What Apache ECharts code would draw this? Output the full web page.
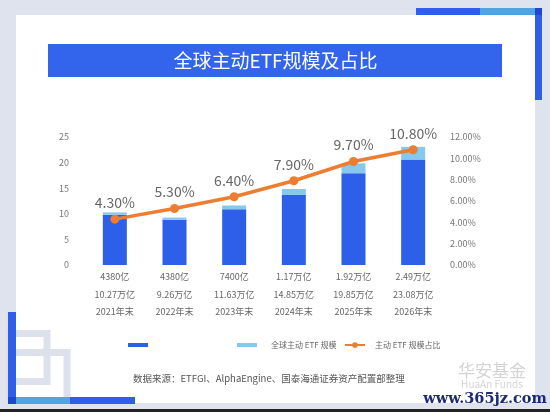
<!DOCTYPE html>
<html><head><meta charset="utf-8">
<script src="https://cdn.jsdelivr.net/npm/echarts@6/dist/echarts.min.js"></script>
<style>html,body{margin:0;padding:0;background:#dfe3ee}#c{width:550px;height:412px}</style>
</head><body><div id="c"></div>
<script>
const years = ['2021年末','2022年末','2023年末','2024年末','2025年末','2026年末'];
const activeLabels = ['4380亿','4380亿','7400亿','1.17万亿','1.92万亿','2.49万亿'];
const totalLabels = ['10.27万亿','9.26万亿','11.63万亿','14.85万亿','19.85万亿','23.08万亿'];
const totalScale = [10.27, 9.26, 11.63, 14.85, 19.85, 23.08];   // 万亿美元 total ETF
const activeScale = [0.438, 0.438, 0.74, 1.17, 1.92, 2.49];     // 万亿美元 active ETF
const activeShare = [4.3, 5.3, 6.4, 7.9, 9.7, 10.8];            // %
const leftTicks = {min:0, max:25, interval:5};
const rightTicks = {min:0, max:12, interval:2};

const F = '"Noto Sans CJK SC", "Noto Sans", sans-serif';
const otherScale = totalScale.map((t,i)=>+(t - activeScale[i]).toFixed(3));

const chart = echarts.init(document.getElementById('c'), null, {renderer:'canvas'});
const g = [
  {type:'rect', shape:{x:16,y:15,width:519,height:388}, style:{fill:'#ffffff'}, z:-10},
  {type:'rect', shape:{x:48,y:44,width:454,height:33}, style:{fill:'#3265ec'}},
  {type:'text', x:275.5, y:61, style:{text:'全球主动ETF规模及占比', fill:'#fff', font:'400 19px '+F, align:'center', verticalAlign:'middle'}},
  // top-right decoration
  {type:'rect', shape:{x:416,y:8,width:64,height:7}, style:{fill:'#2f5fe8'}},
  {type:'rect', shape:{x:480,y:8,width:55,height:7}, style:{fill:'#4ea5e6'}},
  {type:'rect', shape:{x:535,y:8,width:7,height:92}, style:{fill:'#2f5fe8'}},
  {type:'rect', shape:{x:535,y:8,width:7,height:7}, style:{fill:'#1d47d0'}},
  // bottom-left decoration
  {type:'rect', shape:{x:10,y:333.5,width:37,height:48}, style:{fill:null, stroke:'#dde1ec', lineWidth:7}},
  {type:'rect', shape:{x:10,y:352.5,width:57,height:48}, style:{fill:null, stroke:'#dde1ec', lineWidth:7}},
  {type:'rect', shape:{x:8,y:312,width:8,height:92}, style:{fill:'#2f5fe8'}},
  {type:'rect', shape:{x:16,y:397,width:54,height:7}, style:{fill:'#4ea5e6'}},
  {type:'rect', shape:{x:70,y:397,width:65,height:7}, style:{fill:'#2f5fe8'}},
  {type:'rect', shape:{x:8,y:397,width:8,height:7}, style:{fill:'#1d47d0'}},
  {type:'rect', shape:{x:0,y:409,width:550,height:3}, style:{fill:'#222'}},
  // footer
  {type:'text', x:133, y:378, style:{text:'数据来源：ETFGI、AlphaEngine、国泰海通证券资产配置部整理', fill:'#555', font:'9.5px '+F, verticalAlign:'middle'}},
  {type:'text', x:492, y:371, style:{text:'华安基金', fill:'#d4d4d4', font:'17px '+F, align:'center', verticalAlign:'middle'}},
  {type:'text', x:492, y:384, style:{text:'HuaAn Funds', fill:'#d4d4d4', font:'10px '+F, align:'center', verticalAlign:'middle'}},
  {type:'text', x:485, y:399, style:{text:'www.365jz.com', fill:'#1c2a78', font:'bold 14.5px "DejaVu Serif", serif', align:'center', verticalAlign:'middle'}}
];

chart.setOption({
  backgroundColor:'#dfe3ee',
  animation:false,
  textStyle:{fontFamily:F},
  graphic:g,
  grid:{left:85, right:107, top:137, bottom:147},
  legend:[
    {left:123, top:338, itemWidth:20, itemHeight:4, icon:'rect', data:['其他ETF规模'], formatter:()=>'', textStyle:{fontSize:8}},
    {left:232, top:336, itemWidth:20, itemHeight:4, icon:'rect', data:['全球主动 ETF 规模'], textStyle:{fontSize:8, color:'#666', padding:[0,0,0,9]}},
    {left:339, top:336, itemWidth:20, itemHeight:7, data:['主动 ETF 规模占比'], textStyle:{fontSize:8, color:'#666', padding:[0,0,0,5]}}
  ],
  xAxis:{type:'category', data:years, axisLine:{show:false}, axisTick:{show:false},
    axisLabel:{interval:0, margin:3, lineHeight:17.5, fontSize:9, color:'#666',
      formatter:(v,i)=>activeLabels[i]+'\n'+totalLabels[i]+'\n'+v}},
  yAxis:[
    {type:'value', min:leftTicks.min, max:leftTicks.max, interval:leftTicks.interval, splitLine:{show:false},
      axisLine:{show:false}, axisTick:{show:false}, axisLabel:{fontSize:9, color:'#777', margin:16}},
    {type:'value', min:rightTicks.min, max:rightTicks.max, interval:rightTicks.interval, splitLine:{show:false},
      axisLine:{show:false}, axisTick:{show:false}, axisLabel:{fontSize:9, color:'#777', margin:7, formatter:v=>v.toFixed(2)+'%'}}
  ],
  series:[
    {name:'其他ETF规模', type:'bar', stack:'s', barWidth:24, data:otherScale, itemStyle:{color:'#2d5fe9'}},
    {name:'全球主动 ETF 规模', type:'bar', stack:'s', barWidth:24, data:activeScale, itemStyle:{color:'#86c9ef'}},
    {name:'主动 ETF 规模占比', type:'line', yAxisIndex:1, data:activeShare, symbol:'circle', symbolSize:9,
      lineStyle:{color:'#ed7d31', width:3.5}, itemStyle:{color:'#ed7d31'},
      label:{show:true, position:'top', fontSize:14, color:'#666', formatter:p=>p.value.toFixed(2)+'%'}, z:5}
  ]
});
</script></body></html>
